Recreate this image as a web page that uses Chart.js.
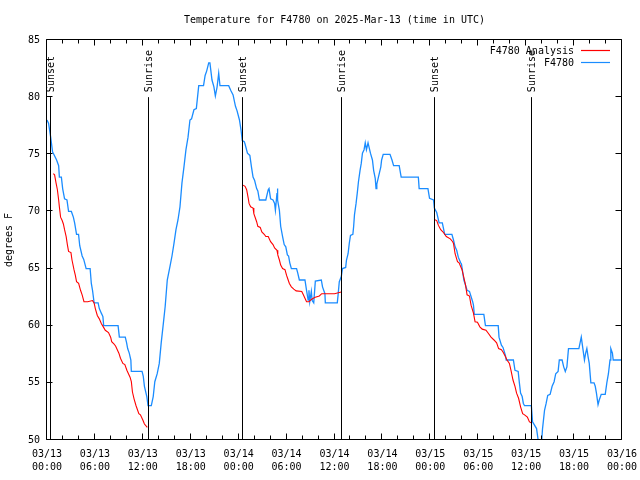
<!DOCTYPE html>
<html>
<head>
<meta charset="utf-8">
<script src="https://cdn.jsdelivr.net/npm/chart.js@4/dist/chart.umd.min.js"></script>
<style>
html,body{margin:0;padding:0;background:#fff;}
canvas{display:block;}
</style>
</head>
<body>
<canvas id="c" width="640" height="480"></canvas>
<script>
// ---- data (hours since 2025-03-13 00:00 UTC) ----
const chartTitle = 'Temperature for F4780 on 2025-Mar-13 (time in UTC)';
const yAxisTitle = 'degrees F';
const seriesNames = ['F4780 Analysis', 'F4780'];
const seriesColors = ['#ff0000', '#1a8cff'];

const obsHours = [0,0.2,0.35,0.46,0.7,0.85,1.2,1.46,1.55,1.8,1.96,2.2,2.5,2.7,3.05,3.3,3.46,3.7,3.95,4.1,4.4,4.6,4.9,5.4,5.55,5.7,5.9,6.4,6.55,6.8,7.0,7.1,8.9,9.06,9.8,9.97,10.1,10.3,10.5,10.56,11.9,12.05,12.2,12.5,12.65,13.06,13.3,13.5,13.8,14.06,14.3,14.57,14.8,15.06,15.4,15.65,15.9,16.15,16.4,16.65,16.9,17.15,17.4,17.66,17.9,18.1,18.4,18.7,19.0,19.6,19.8,20.0,20.25,20.4,20.66,20.9,21.08,21.3,21.5,21.66,22.75,23.0,23.3,23.6,23.8,24.1,24.3,24.45,24.7,24.8,25.1,25.4,25.6,25.8,26.0,26.25,26.4,26.6,27.4,27.7,27.8,28.0,28.3,28.5,28.6,28.8,28.85,28.9,29.1,29.26,29.5,29.7,29.9,30.1,30.25,30.4,30.6,31.25,31.4,31.6,32.3,32.5,32.7,32.8,32.9,33.1,33.2,33.4,33.6,34.35,34.5,34.8,34.85,36.35,36.45,36.6,36.85,37.0,37.4,37.5,37.7,37.85,38.0,38.3,38.4,38.5,38.7,38.85,39.0,39.2,39.35,39.5,39.7,39.85,40.0,40.2,40.3,40.5,40.75,40.9,41.1,41.2,41.3,41.5,41.8,41.9,42.1,42.95,43.2,43.4,44.1,44.3,44.35,46.5,46.6,47.7,47.9,48.4,48.5,48.8,49.1,49.5,49.8,50.7,50.9,51.1,51.3,51.5,51.8,51.9,52.2,52.6,52.9,53.3,53.4,53.5,54.7,54.9,56.5,56.6,56.9,57.1,57.4,57.5,58.4,58.6,59.0,59.15,59.3,59.5,59.65,59.8,60.65,60.8,61.3,61.5,61.6,61.85,61.95,62.05,62.3,62.5,62.7,63.0,63.25,63.5,63.7,64.0,64.15,64.5,64.7,64.9,65.1,65.3,66.6,66.75,66.9,67.1,67.3,67.45,67.6,67.75,67.9,68.1,68.5,68.65,68.8,69.0,69.15,69.4,69.9,70.1,70.3,70.5,70.6,70.8,70.9,72];
const obsTemps = [78,77.7,77,76.5,75.2,75,74.5,74,73,73,72,71.1,71,70,70,69.5,69,68,68,67,66.1,65.8,65,65,63.7,63.1,62,62,61.5,61.1,60.8,60,60,59,59,58.5,58,57.6,57,56,56,55.6,54.7,53.8,53,53,53.8,55.1,55.8,56.7,58.5,60.2,61.7,64,65.2,66.1,67.2,68.4,69.25,70.4,72.5,73.9,75.4,76.5,78,78.1,78.9,79,81,81,81.9,82.3,83,83,81.5,80.9,80.1,80.9,82.1,81,81,80.6,80.2,79.2,78.8,78,77.1,76.2,76.1,75.9,75.1,74.9,73.9,73,72.7,72,71.8,71,71,71.9,72,71.1,71,70.7,70.1,71.6,72,71,70.1,68.7,67.8,67.1,66.9,66.2,66.1,65.5,65,65,64.6,64,64,63.1,62.25,63.1,62.1,63,62.2,62,63.9,64,63.4,62.8,62,62,62.7,63.85,64.3,65,65.1,65.75,66.3,67.2,67.9,68,68.7,69.7,70.7,71.6,72.6,73.6,74.2,75.1,75.4,76,75.4,76,76,75.1,74.5,73.6,72.9,72,72.4,73,73.9,74.5,75,75,74.5,74,74,73.2,73,73,72,72,71.15,71,70.3,69.9,69,69,68,68,67.5,66.9,66.6,66,65.5,65.4,64,63.1,63,62.1,61.8,61,61,60,60,59,58.3,58.1,57.4,57,57,56.1,56,55,54.1,53.8,53.2,53,53,51.6,51,50,49,49,50,51,52.6,53.2,53.9,54,54.7,55.1,55.8,56,57,57,56.4,56,56.4,58,58,58.5,59,58,57,57.6,58,57.3,56.7,55,55,54.7,54.1,53.1,53.5,54,54,55,55.8,57,58,57.6,57,57];

const anaHours = [0.79,0.95,1.13,1.3,1.46,1.55,1.7,1.9,2.05,2.2,2.4,2.55,2.7,3.0,3.13,3.38,3.55,3.7,3.96,4.2,4.4,4.63,5.1,5.7,5.9,6.05,6.3,6.55,6.8,7.05,7.3,7.7,7.97,8.1,8.4,8.6,9.0,9.2,9.5,9.75,10.0,10.2,10.4,10.56,10.7,10.9,11.15,11.5,11.7,12.0,12.2,12.56,
  18,
  24.55,24.8,25.0,25.2,25.3,25.5,25.8,25.9,26.1,26.25,26.4,26.7,26.9,27.2,27.4,27.7,28.0,28.3,28.5,28.8,28.9,29.1,29.26,29.5,29.8,30.0,30.2,30.35,30.6,30.9,31.2,31.9,32.1,32.3,32.5,32.8,33.1,33.35,33.6,34.1,34.4,36.0,36.85,
  42,
  48.5,48.8,49.0,49.3,49.6,50.0,50.5,50.8,50.9,51.1,51.4,51.6,51.97,52.4,52.6,52.9,53.1,53.4,53.6,53.9,54.2,54.5,54.97,55.3,55.6,55.97,56.3,56.55,56.9,57.1,57.4,57.6,57.9,58.1,58.35,58.6,58.8,59.05,59.3,59.56,59.8,60.15,60.4,60.6];
const anaTemps = [73.3,73.2,72.5,71.9,71,70.4,69.5,69.2,68.9,68.4,67.8,67.1,66.5,66.4,65.75,64.9,64.4,63.85,63.7,63.1,62.7,62.1,62.1,62.2,62,61.5,60.9,60.6,60.2,59.9,59.6,59.4,59,58.6,58.4,58.2,57.6,57.15,56.7,56.6,56.1,55.8,55.5,55.1,54.2,53.6,53,52.3,52.2,51.75,51.4,51.1,
  null,
  72.3,72.2,71.9,71.15,70.7,70.4,70.3,69.8,69.4,69.1,68.7,68.6,68.2,68.0,67.8,67.8,67.35,67.1,66.8,66.6,66.2,65.75,65.3,65,64.9,64.4,64,63.7,63.4,63.2,63.05,63,62.7,62.4,62.1,62.1,62.3,62.4,62.5,62.6,62.8,62.8,62.95,
  null,
  69.3,69.2,68.8,68.4,68.2,67.8,67.6,67.35,67.2,66.3,65.6,65.5,64.9,63.6,62.7,62.6,61.8,61.1,60.35,60.3,59.9,59.7,59.6,59.3,59,58.75,58.5,58,57.9,57.7,57.3,57,56.7,56.1,55.25,54.7,54.1,53.65,52.9,52.3,52.2,52,51.6,51.5];

const eventHours = [0.41, 12.69, 24.46, 36.77, 48.5, 60.65];
const eventLabels = ['Sunset', 'Sunrise', 'Sunset', 'Sunrise', 'Sunset', 'Sunrise'];
const eventFrom = 50, eventTo = 80;

const xTickLabels = [['03/13','00:00'],['03/13','06:00'],['03/13','12:00'],['03/13','18:00'],
  ['03/14','00:00'],['03/14','06:00'],['03/14','12:00'],['03/14','18:00'],
  ['03/15','00:00'],['03/15','06:00'],['03/15','12:00'],['03/15','18:00'],['03/16','00:00']];
const xMin = 0, xMax = 72, xMinorStep = 2, xMajorStep = 6;
const yMin = 50, yMax = 85, yStep = 5;

// ---- build ----
const FONT = 'DejaVu Sans Mono';
const anaPoints = anaHours.map((h, i) => ({x: h, y: anaTemps[i]}));
const obsPoints = obsHours.map((h, i) => ({x: h, y: obsTemps[i]}));

const framePlugin = {
  id: 'frame',
  afterDatasetsDraw(chart) {
    const {ctx, chartArea: a, scales: {x, y}} = chart;
    ctx.save();
    ctx.strokeStyle = '#000';
    ctx.lineWidth = 1;
    ctx.font = '10px "' + FONT + '"';
    ctx.fillStyle = '#000';
    // title, centred over the plot area
    ctx.textAlign = 'center';
    ctx.textBaseline = 'middle';
    ctx.fillText(chartTitle, (a.left + a.right) / 2, 20);
    // event lines + labels
    eventHours.forEach((h, i) => {
      const px = Math.round(x.getPixelForValue(h)) + 0.5;
      ctx.beginPath();
      ctx.moveTo(px, y.getPixelForValue(eventFrom));
      ctx.lineTo(px, y.getPixelForValue(eventTo));
      ctx.stroke();
      ctx.save();
      ctx.translate(px + 1, y.getPixelForValue(eventTo) - 5);
      ctx.rotate(-Math.PI / 2);
      ctx.textAlign = 'left';
      ctx.textBaseline = 'middle';
      ctx.fillText(eventLabels[i], 0, 0);
      ctx.restore();
    });
    // frame
    const L = Math.round(a.left) - 0.5, R = Math.round(a.right) - 0.5;
    const T = Math.round(a.top) - 0.5, B = Math.round(a.bottom) - 0.5;
    ctx.beginPath();
    ctx.rect(L, T, R - L, B - T);
    ctx.stroke();
    // ticks (inward)
    ctx.beginPath();
    for (let v = xMin; v <= xMax; v += xMinorStep) {
      const px = Math.round(x.getPixelForValue(v)) - 0.5;
      const len = (v % xMajorStep === 0) ? 6 : 4;
      ctx.moveTo(px, B); ctx.lineTo(px, B - len);
      ctx.moveTo(px, T); ctx.lineTo(px, T + len);
    }
    for (let v = yMin; v <= yMax; v += yStep) {
      const py = Math.round(y.getPixelForValue(v)) - 0.5;
      ctx.moveTo(L, py); ctx.lineTo(L + 6, py);
      ctx.moveTo(R, py); ctx.lineTo(R - 6, py);
    }
    ctx.stroke();
    // legend
    ctx.textAlign = 'right';
    ctx.textBaseline = 'middle';
    const legY = [51, 63];
    chart.data.datasets.forEach((ds, i) => {
      ctx.fillStyle = '#000';
      ctx.fillText(ds.label, 574, legY[i]);
      ctx.strokeStyle = ds.borderColor;
      ctx.lineWidth = 1.2;
      ctx.beginPath();
      ctx.moveTo(581, legY[i] - 0.5); ctx.lineTo(610, legY[i] - 0.5);
      ctx.stroke();
    });
    ctx.restore();
  }
};

new Chart(document.getElementById('c'), {
  type: 'line',
  data: {
    datasets: [
      {label: seriesNames[0], data: anaPoints, borderColor: seriesColors[0], borderWidth: 1.1, pointRadius: 0, spanGaps: false, tension: 0},
      {label: seriesNames[1], data: obsPoints, borderColor: seriesColors[1], borderWidth: 1.3, pointRadius: 0, tension: 0}
    ]
  },
  options: {
    responsive: false,
    animation: false,
    devicePixelRatio: 1,
    layout: {padding: {left: 0, right: 18, top: 40, bottom: 0}},
    plugins: {
      legend: {display: false},
      tooltip: {enabled: false},
      title: {display: false}
    },
    scales: {
      x: {
        type: 'linear', min: xMin, max: xMax,
        grid: {display: false, drawTicks: false},
        border: {display: false},
        ticks: {stepSize: xMinorStep, autoSkip: false, maxRotation: 0, minRotation: 0, padding: 8, color: '#000',
          font: {family: FONT, size: 10, lineHeight: 1.3},
          callback: (v) => (v % xMajorStep === 0) ? xTickLabels[v / xMajorStep] : ''},
        afterFit: (s) => { s.height = 40; s.paddingLeft = 0; s.paddingRight = 0; }
      },
      y: {
        type: 'linear', min: yMin, max: yMax,
        grid: {display: false, drawTicks: false},
        border: {display: false},
        ticks: {stepSize: yStep, padding: 7, color: '#000', font: {family: FONT, size: 10},
          callback: (v) => String(v)},
        title: {display: true, text: yAxisTitle, color: '#000', font: {family: FONT, size: 10, lineHeight: 1.2}, padding: {top: 3, bottom: 0}},
        afterFit: (s) => { s.width = 47; s.paddingTop = 0; s.paddingBottom = 0; }
      }
    }
  },
  plugins: [framePlugin]
});
</script>
</body>
</html>
